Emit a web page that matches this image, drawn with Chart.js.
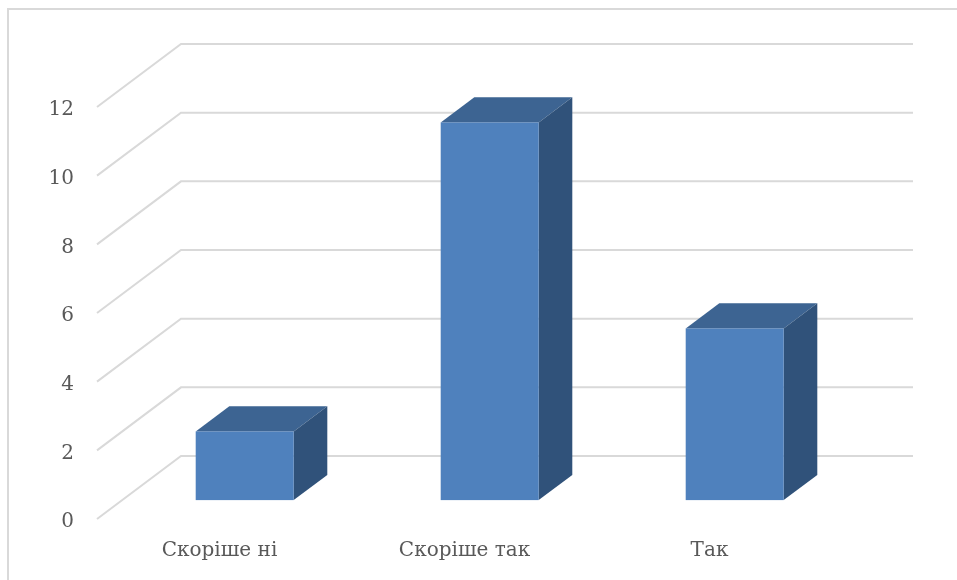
<!DOCTYPE html>
<html>
<head>
<meta charset="utf-8">
<script src="https://cdn.jsdelivr.net/npm/chart.js@4.4.1/dist/chart.umd.min.js"></script>
<style>
  html, body { margin: 0; padding: 0; background: #fff; }
  #wrap { width: 957px; height: 580px; }
</style>
</head>
<body>
<div id="wrap"><canvas id="chart" width="957" height="580"></canvas></div>
<script>
// data
const categories = ['Скоріше ні', 'Скоріше так', 'Так'];
const values = [2, 11, 5];
const yMin = 0;
const yMax = 12;
const yStep = 2;

// 3D look (Excel style)
const WALL_DX = 84;     // depth of the side wall / floor, px
const WALL_DY = -63;
const FRONT_AT = 0.30;  // where the bar front sits inside the depth
const BACK_AT = 0.70;
const GRID = '#d9d9d9';
const FRONT = '#4f81bd';
const TOP = '#3d6492';
const SIDE = '#30527a';

const threeD = {
  id: 'threeD',
  beforeDraw(chart) {
    const ctx = chart.ctx;
    ctx.save();
    ctx.strokeStyle = GRID;
    ctx.lineWidth = 2;
    ctx.beginPath();
    ctx.moveTo(8, 580);
    ctx.lineTo(8, 9);
    ctx.lineTo(957, 9);
    ctx.stroke();
    ctx.restore();
  },
  beforeDatasetsDraw(chart) {
    const ctx = chart.ctx;
    const y = chart.scales.y;
    const area = chart.chartArea;
    ctx.save();
    ctx.strokeStyle = GRID;
    ctx.lineWidth = 2;
    y.ticks.forEach((t) => {
      const py = y.getPixelForValue(t.value);
      ctx.beginPath();
      ctx.moveTo(area.left, py);
      ctx.lineTo(area.left + WALL_DX, py + WALL_DY);
      ctx.lineTo(area.right + WALL_DX - 3, py + WALL_DY);
      ctx.stroke();
    });
    ctx.restore();
  },
  afterDatasetsDraw(chart) {
    const ctx = chart.ctx;
    const meta = chart.getDatasetMeta(0);
    const fx = WALL_DX * FRONT_AT, fy = WALL_DY * FRONT_AT;
    const dx = WALL_DX * (BACK_AT - FRONT_AT), dy = WALL_DY * (BACK_AT - FRONT_AT);
    ctx.save();
    meta.data.forEach((bar) => {
      const p = bar.getProps(['x', 'y', 'base', 'width'], true);
      const l = p.x - p.width / 2 + fx, r = p.x + p.width / 2 + fx;
      const t = p.y + fy, b = p.base + fy;
      // top
      ctx.fillStyle = TOP;
      ctx.beginPath();
      ctx.moveTo(l, t);
      ctx.lineTo(l + dx, t + dy);
      ctx.lineTo(r + dx, t + dy);
      ctx.lineTo(r, t);
      ctx.closePath();
      ctx.fill();
      // side
      ctx.fillStyle = SIDE;
      ctx.beginPath();
      ctx.moveTo(r, t);
      ctx.lineTo(r + dx, t + dy);
      ctx.lineTo(r + dx, b + dy);
      ctx.lineTo(r, b);
      ctx.closePath();
      ctx.fill();
      // front
      ctx.fillStyle = FRONT;
      ctx.fillRect(l, t, r - l, b - t);
    });
    ctx.restore();
  }
};

new Chart(document.getElementById('chart'), {
  type: 'bar',
  data: {
    labels: categories,
    datasets: [{
      data: values,
      backgroundColor: 'rgba(0,0,0,0)',
      barPercentage: 0.4,
      categoryPercentage: 1
    }]
  },
  options: {
    responsive: false,
    animation: false,
    layout: { padding: { left: 0, right: 125, top: 107, bottom: 0 } },
    plugins: {
      legend: { display: false },
      tooltip: { enabled: false }
    },
    scales: {
      x: {
        grid: { display: false, drawTicks: false },
        border: { display: false },
        ticks: {
          color: '#595959',
          padding: 20,
          maxRotation: 0,
          font: { family: 'DejaVu Serif', size: 20 }
        },
        afterFit(scale) { scale.height = 580 - 519; }
      },
      y: {
        min: yMin,
        max: yMax,
        grid: { display: false, drawTicks: false },
        border: { display: false },
        ticks: {
          stepSize: yStep,
          color: '#595959',
          padding: 23,
          labelOffset: 3,
          font: { family: 'DejaVu Serif', size: 20 }
        },
        afterFit(scale) { scale.width = 97; }
      }
    }
  },
  plugins: [threeD]
});
</script>
</body>
</html>
